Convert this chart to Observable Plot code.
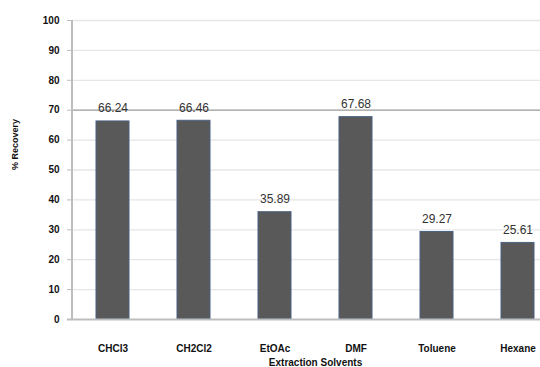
<!DOCTYPE html>
<html><head><meta charset="utf-8">
<script src="https://cdn.jsdelivr.net/npm/d3@7"></script>
<script src="https://cdn.jsdelivr.net/npm/@observablehq/plot@0.6"></script>
<style>
body{margin:0;background:#fff;}
#wrap{width:540px;height:367px;overflow:hidden;position:relative;}
#wrap svg{max-width:none !important;}
</style>
</head><body><div id="wrap"></div>
<script>
const solvents = ["CHCl3","CH2Cl2","EtOAc","DMF","Toluene","Hexane"];
const recovery = [66.24, 66.46, 35.89, 67.68, 29.27, 25.61];
const yTicks = [0,10,20,30,40,50,60,70,80,90,100];
const data = solvents.map((s,i)=>({solvent:s, value:recovery[i]}));

const chart = Plot.plot({
  width: 558, height: 367,
  marginLeft: 72, marginRight: 0, marginTop: 20, marginBottom: 48,
  style: {fontFamily: "'Liberation Sans', Arial, sans-serif", background: "#fff", maxWidth: "none"},
  x: {domain: solvents, paddingInner: 0.59, paddingOuter: 0.295, label: null},
  y: {domain: [0,100], label: null},
  marks: [
    Plot.ruleY(yTicks.filter(d=>d>0), {stroke: d => d===70 ? "#9a9a9a" : "#e6e6e6", strokeWidth: 1.3}),
    Plot.barY(data, {x:"solvent", y:"value", fill:"#595959", stroke:"#4a6283", strokeWidth:1}),
    Plot.text(data, {x:"solvent", y:"value", text: d=>d.value.toFixed(2), dy:-13, fontSize:12, fill:"#333"}),
    Plot.ruleY([0], {stroke:"#bdbdbd", strokeWidth:2, insetLeft:-5}),
    Plot.axisY({ticks: yTicks, tickSize: 5, tickPadding: 8, fontSize: 10, fontWeight: "bold", stroke:"#bdbdbd", color:"#111", label:null}),
    Plot.axisX({tickSize: 0, tickPadding: 25, fontSize: 10, fontWeight: "bold", color:"#111", label:null}),
    Plot.text(["% Recovery"], {frameAnchor:"left", dx:-57, rotate:-90, fontSize:9, fontWeight:"bold", fill:"#111"}),
    Plot.text(["Extraction Solvents"], {frameAnchor:"bottom", dy:46, fontSize:10, fontWeight:"bold", fill:"#111"})
  ]
});
chart.style.maxWidth = "none";
const svg = d3.select(chart);
svg.append("line").attr("x1",72).attr("x2",72).attr("y1",20).attr("y2",319)
  .attr("stroke","#bdbdbd").attr("stroke-width",2);
document.getElementById("wrap").appendChild(chart);
</script>
</body></html>
